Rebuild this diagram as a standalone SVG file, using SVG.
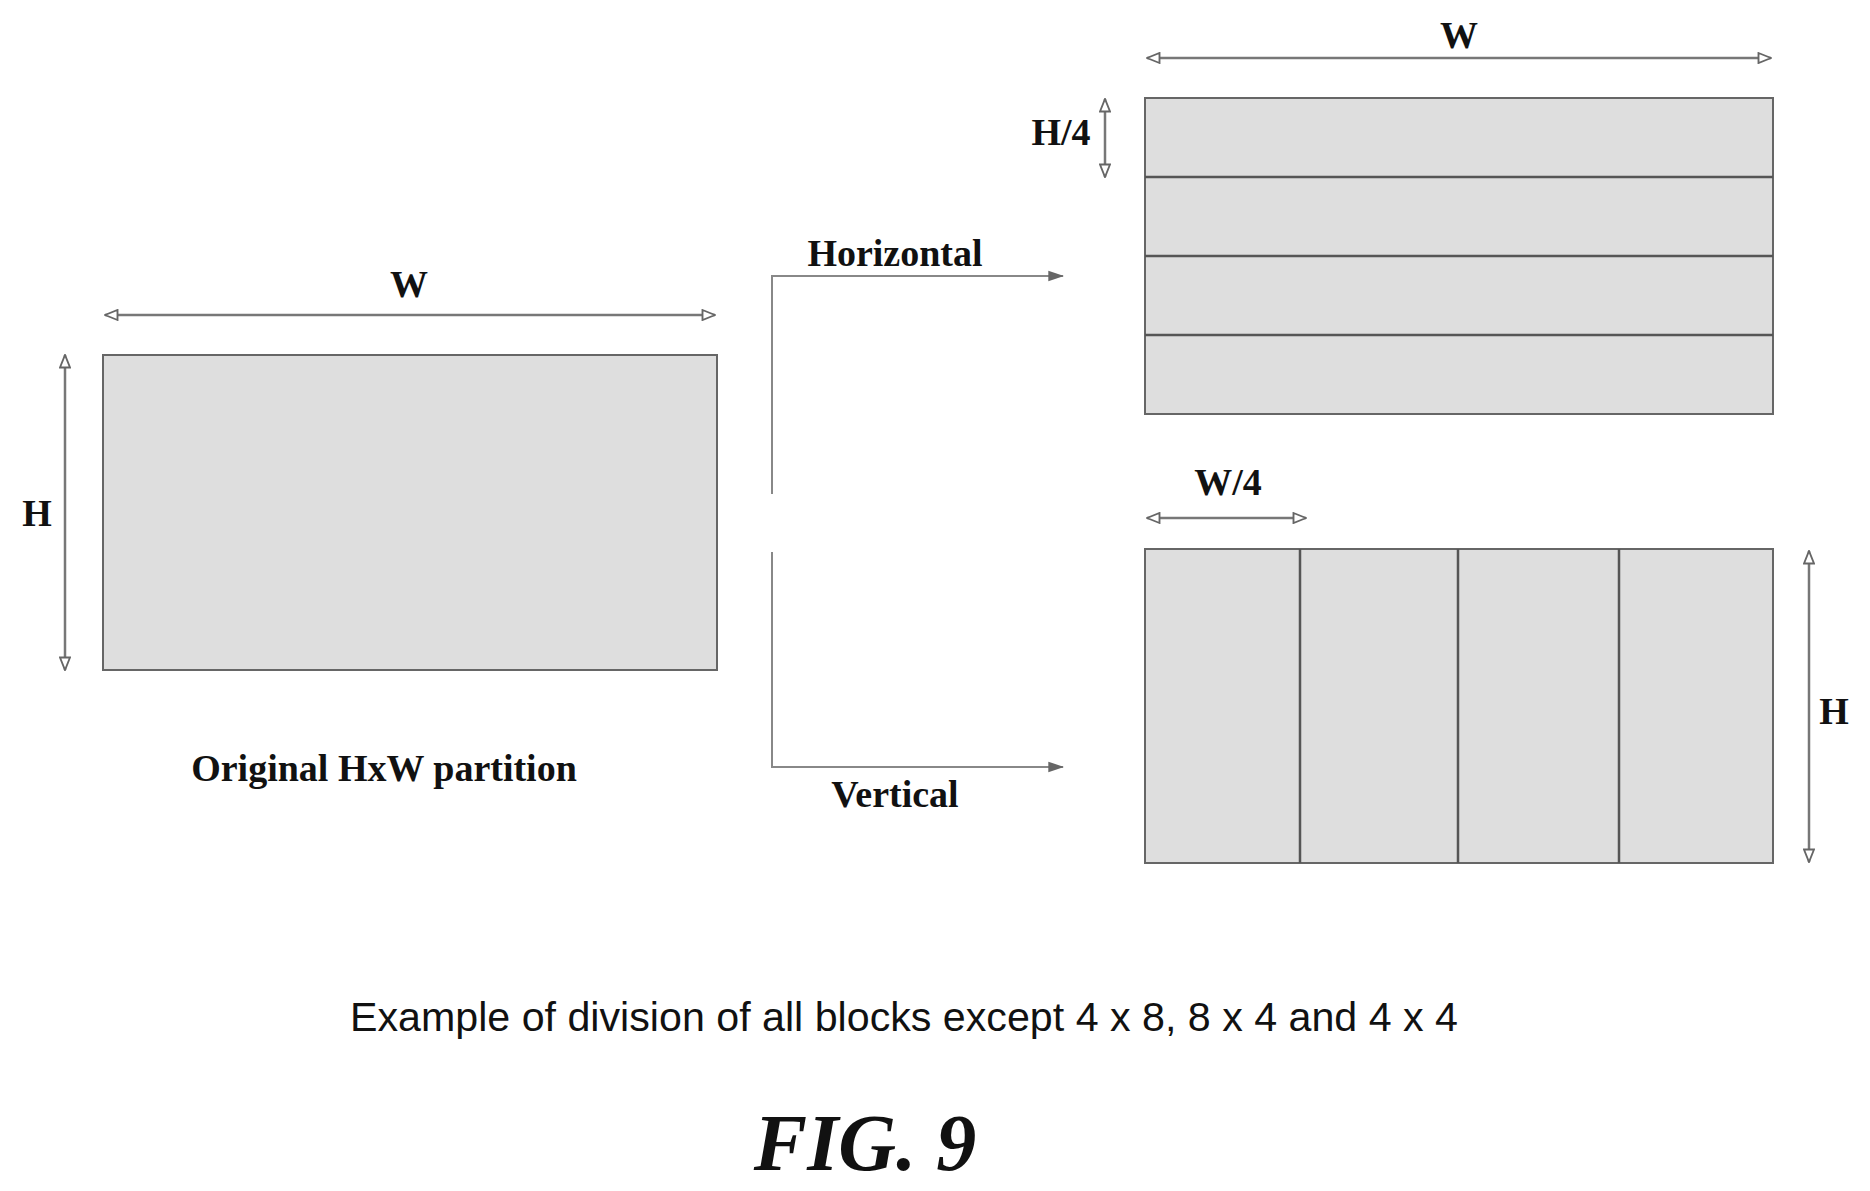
<svg xmlns="http://www.w3.org/2000/svg" width="1870" height="1191" viewBox="0 0 1870 1191">
<style>
.blk{fill:#dedede;stroke:#666;stroke-width:2}
.div{stroke:#555;stroke-width:2.5}
.dim{stroke:#777;stroke-width:2.5;fill:none}
.con{stroke:#888;stroke-width:2;fill:none}
.lbl{font-family:"Liberation Serif",serif;font-weight:bold;font-size:38px;fill:#111}
.cap{font-family:"Liberation Sans Narrow","Liberation Sans",sans-serif;font-size:40px;fill:#111}
.fig{font-family:"Liberation Serif",serif;font-weight:bold;font-style:italic;font-size:80px;fill:#111}
</style>
<defs>
<marker id="ah" viewBox="0 0 12 10" refX="11" refY="5" markerWidth="6" markerHeight="5" orient="auto-start-reverse" markerUnits="strokeWidth">
<path d="M1,1 L11,5 L1,9 Z" fill="#fff" stroke="#666" stroke-width="1.5"/>
</marker>
<marker id="af" viewBox="0 0 12 10" refX="11" refY="5" markerWidth="8" markerHeight="7" orient="auto" markerUnits="strokeWidth">
<path d="M0,1 L12,5 L0,9 Z" fill="#666"/>
</marker>
</defs>
<g id="original">
<rect class="blk" x="103" y="355" width="614" height="315"/>
<line class="dim" x1="105" y1="315" x2="715" y2="315" marker-start="url(#ah)" marker-end="url(#ah)"/>
<text class="lbl" x="409" y="297" text-anchor="middle">W</text>
<line class="dim" x1="65" y1="355" x2="65" y2="670" marker-start="url(#ah)" marker-end="url(#ah)"/>
<text class="lbl" x="37" y="526" text-anchor="middle">H</text>
<text class="lbl" x="384" y="781" text-anchor="middle">Original HxW partition</text>
</g>
<g id="horizontal-split">
<rect class="blk" x="1145" y="98" width="628" height="316"/>
<line class="div" x1="1145" y1="177" x2="1773" y2="177"/>
<line class="div" x1="1145" y1="256" x2="1773" y2="256"/>
<line class="div" x1="1145" y1="335" x2="1773" y2="335"/>
<line class="dim" x1="1147" y1="58" x2="1771" y2="58" marker-start="url(#ah)" marker-end="url(#ah)"/>
<text class="lbl" x="1459" y="48" text-anchor="middle">W</text>
<line class="dim" x1="1105" y1="99" x2="1105" y2="177" marker-start="url(#ah)" marker-end="url(#ah)"/>
<text class="lbl" x="1061" y="145" text-anchor="middle">H/4</text>
</g>
<g id="vertical-split">
<rect class="blk" x="1145" y="549" width="628" height="314"/>
<line class="div" x1="1300" y1="549" x2="1300" y2="863"/>
<line class="div" x1="1458" y1="549" x2="1458" y2="863"/>
<line class="div" x1="1619" y1="549" x2="1619" y2="863"/>
<line class="dim" x1="1147" y1="518" x2="1306" y2="518" marker-start="url(#ah)" marker-end="url(#ah)"/>
<text class="lbl" x="1228" y="495" text-anchor="middle">W/4</text>
<line class="dim" x1="1809" y1="551" x2="1809" y2="862" marker-start="url(#ah)" marker-end="url(#ah)"/>
<text class="lbl" x="1834" y="724" text-anchor="middle">H</text>
</g>
<g id="connectors">
<path class="con" d="M772,494 V276 H1063" marker-end="url(#af)"/>
<path class="con" d="M772,552 V767 H1063" marker-end="url(#af)"/>
<text class="lbl" x="895" y="266" text-anchor="middle">Horizontal</text>
<text class="lbl" x="895" y="807" text-anchor="middle">Vertical</text>
</g>
<text class="cap" x="904" y="1031" text-anchor="middle" textLength="1108" lengthAdjust="spacingAndGlyphs">Example of division of all blocks except 4 x 8, 8 x 4 and 4 x 4</text>
<text class="fig" x="865" y="1170" text-anchor="middle">FIG. 9</text>
</svg>
